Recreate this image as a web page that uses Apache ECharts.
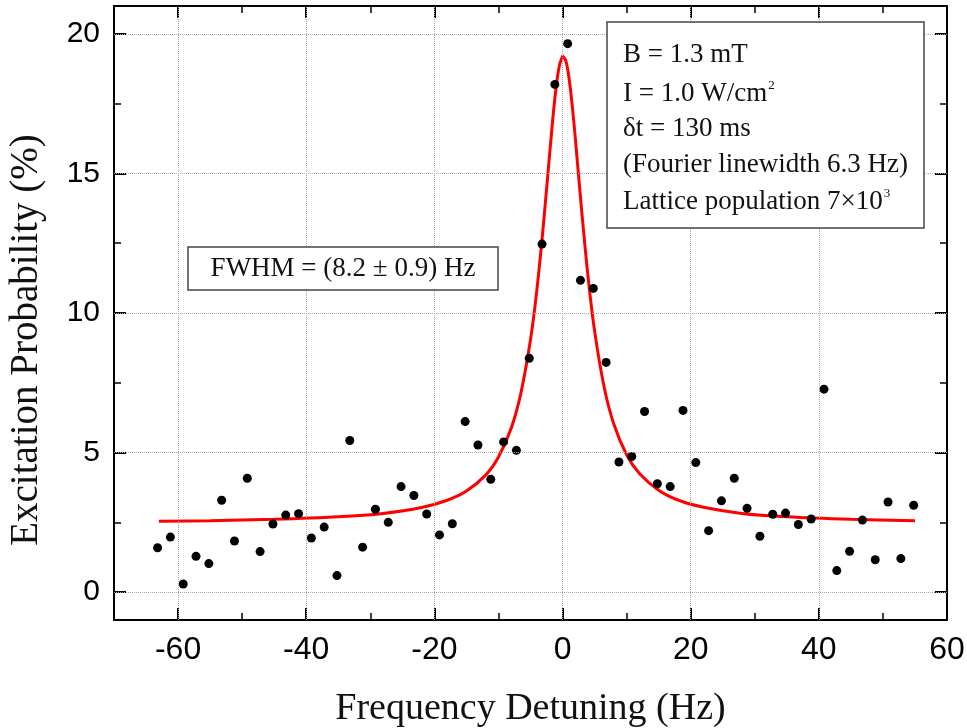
<!DOCTYPE html>
<html>
<head>
<meta charset="utf-8">
<title>Excitation Probability</title>
<script src="https://cdn.jsdelivr.net/npm/echarts@6/dist/echarts.min.js"></script>
<style>
  html, body { margin: 0; padding: 0; background: #fff; }
  #chart { width: 967px; height: 728px; }
</style>
</head>
<body>
<div id="chart"></div>
<script>
// measured points
var detuning = [-63.2, -61.2, -59.2, -57.2, -55.2, -53.2, -51.2, -49.2, -47.2, -45.2,
  -43.2, -41.2, -39.2, -37.2, -35.2, -33.2, -31.2, -29.2, -27.2, -25.2,
  -23.2, -21.2, -19.2, -17.2, -15.2, -13.2, -11.2, -9.2, -7.2, -5.2,
  -3.2, -1.2, 0.8, 2.8, 4.8, 6.8, 8.8, 10.8, 12.8, 14.8,
  16.8, 18.8, 20.8, 22.8, 24.8, 26.8, 28.8, 30.8, 32.8, 34.8,
  36.8, 38.8, 40.8, 42.8, 44.8, 46.8, 48.8, 50.8, 52.8, 54.8];
var excitation = [1.59, 1.97, 0.29, 1.28, 1.02, 3.29, 1.83, 4.08, 1.45, 2.44,
  2.76, 2.81, 1.94, 2.33, 0.59, 5.43, 1.61, 2.97, 2.50, 3.78,
  3.46, 2.80, 2.05, 2.45, 6.11, 5.27, 4.04, 5.38, 5.08, 8.38,
  12.47, 18.19, 19.65, 11.17, 10.88, 8.23, 4.66, 4.86, 6.47, 3.88,
  3.78, 6.51, 4.64, 2.20, 3.27, 4.08, 3.00, 2.00, 2.79, 2.83,
  2.42, 2.62, 7.27, 0.77, 1.46, 2.58, 1.16, 3.23, 1.20, 3.11];

// fitted curve
var fitX = [-63, -55, -45, -35, -28, -22, -18, -15, -12, -10, -8, -6.5, -5, -4, -3, -2, -1.5, -1, -0.5, 0, 0.1,
  0.5, 1, 1.5, 2, 3, 4, 5, 6.5, 8, 10, 12, 15, 18, 22, 28, 35, 45, 55];
var fitY = [2.54, 2.56, 2.61, 2.70, 2.82, 3.03, 3.29, 3.62, 4.19, 4.84, 5.88, 7.13, 9.04, 10.84, 13.12, 15.73, 17.00, 18.09, 18.86, 19.20, 19.21,
  19.05, 18.44, 17.46, 16.25, 13.63, 11.26, 9.36, 7.34, 6.02, 4.92, 4.25, 3.65, 3.30, 3.04, 2.82, 2.70, 2.61, 2.56];

// ticks
var xTicks = [-60, -40, -20, 0, 20, 40, 60];
var xMinorTicks = [-70, -50, -30, -10, 10, 30, 50];
var yTicks = [0, 5, 10, 15, 20];
var yMinorTicks = [2.5, 7.5, 12.5, 17.5];

var infoLines = [
  '{t|B = 1.3 mT}',
  '{t|I = 1.0 W/cm}{s|2}',
  '{t|\u03b4t = 130 ms}',
  '{t|(Fourier linewidth 6.3 Hz)}',
  '{t|Lattice population 7\u00d710}{s|3}'
];
var infoLineY = [55, 94, 129, 165, 202];
var fwhmText = 'FWHM = (8.2 \u00b1 0.9) Hz';

var chart = echarts.init(document.getElementById('chart'));

var serif = '"Liberation Serif", "Times New Roman", serif';
var sans = '"Liberation Sans", Arial, sans-serif';

function frameAxis(pos, min, max, ticks, major, showLine) {
  return {
    type: 'value',
    position: pos,
    min: min,
    max: max,
    axisLine: { show: showLine, onZero: false, lineStyle: { color: '#000', width: 2 } },
    axisTick: {
      show: true, inside: true, length: major ? 12 : 7, customValues: ticks,
      lineStyle: { color: '#000', width: major ? 2 : 1.5 }
    },
    axisLabel: { show: false, customValues: ticks },
    splitLine: { show: false }
  };
}

var xBottom = frameAxis('bottom', -70, 60, xTicks, true, true);
xBottom.axisLabel = { show: true, customValues: xTicks, margin: 14, color: '#000', fontFamily: sans, fontSize: 32 };
xBottom.name = 'Frequency Detuning (Hz)';
xBottom.nameLocation = 'middle';
xBottom.nameGap = 70;
xBottom.nameTextStyle = { fontFamily: serif, fontSize: 38, color: '#111' };

var yLeft = frameAxis('left', -1, 21, yTicks, true, true);
yLeft.axisLabel = { show: true, customValues: yTicks, margin: 14, color: '#000', fontFamily: sans, fontSize: 30 };
yLeft.name = 'Excitation Probability (%)';
yLeft.nameLocation = 'middle';
yLeft.nameGap = 68;
yLeft.nameTextStyle = { fontFamily: serif, fontSize: 39, color: '#111', padding: [0, 54, 0, 0] };

var infoGraphics = infoLines.map(function (line, i) {
  return {
    type: 'text',
    x: 623,
    y: infoLineY[i],
    z: 20,
    style: {
      text: line,
      verticalAlign: 'middle',
      rich: {
        t: { fontFamily: serif, fontSize: 27, fill: '#111', lineHeight: 30 },
        s: { fontFamily: serif, fontSize: 13, fill: '#111', lineHeight: 30, verticalAlign: 'top', padding: [0, 0, 0, 1] }
      }
    }
  };
});

var option = {
  backgroundColor: '#fff',
  animation: false,
  grid: { left: 114, right: 20, top: 6, bottom: 108, outerBoundsMode: 'none' },
  xAxis: [
    xBottom,
    frameAxis('bottom', -70, 60, xMinorTicks, false, false),
    frameAxis('top', -70, 60, xTicks, true, true),
    frameAxis('top', -70, 60, xMinorTicks, false, false)
  ],
  yAxis: [
    yLeft,
    frameAxis('left', -1, 21, yMinorTicks, false, false),
    frameAxis('right', -1, 21, yTicks, true, true),
    frameAxis('right', -1, 21, yMinorTicks, false, false)
  ],
  series: [
    {
      // dotted grid lines at the major ticks
      type: 'line',
      data: [],
      markLine: {
        silent: true,
        symbol: 'none',
        label: { show: false },
        lineStyle: { color: '#aaa', type: 'dotted', width: 1 },
        data: yTicks.map(function (v) { return { yAxis: v }; })
          .concat(xTicks.slice(0, -1).map(function (v) { return { xAxis: v }; }))
      }
    },
    {
      name: 'fit',
      type: 'line',
      data: fitX.map(function (x, i) { return [x, fitY[i]]; }),
      showSymbol: false,
      smooth: 0.3,
      lineStyle: { color: '#ff0000', width: 3 },
      z: 3
    },
    {
      name: 'data',
      type: 'scatter',
      data: detuning.map(function (x, i) { return [x, excitation[i]]; }),
      symbolSize: 9,
      itemStyle: { color: '#000', opacity: 1 },
      z: 4
    }
  ],
  graphic: [
    {
      type: 'rect',
      shape: { x: 188, y: 247, width: 310, height: 43 },
      style: { fill: '#fff', stroke: '#444', lineWidth: 1.5 },
      z: 10
    },
    {
      type: 'text',
      x: 343,
      y: 269,
      z: 20,
      style: { text: fwhmText, fontFamily: serif, fontSize: 27, fill: '#111', align: 'center', verticalAlign: 'middle' }
    },
    {
      type: 'rect',
      shape: { x: 607, y: 22, width: 317, height: 206 },
      style: { fill: '#fff', stroke: '#444', lineWidth: 1.5 },
      z: 10
    }
  ].concat(infoGraphics)
};

chart.setOption(option);
</script>
</body>
</html>
